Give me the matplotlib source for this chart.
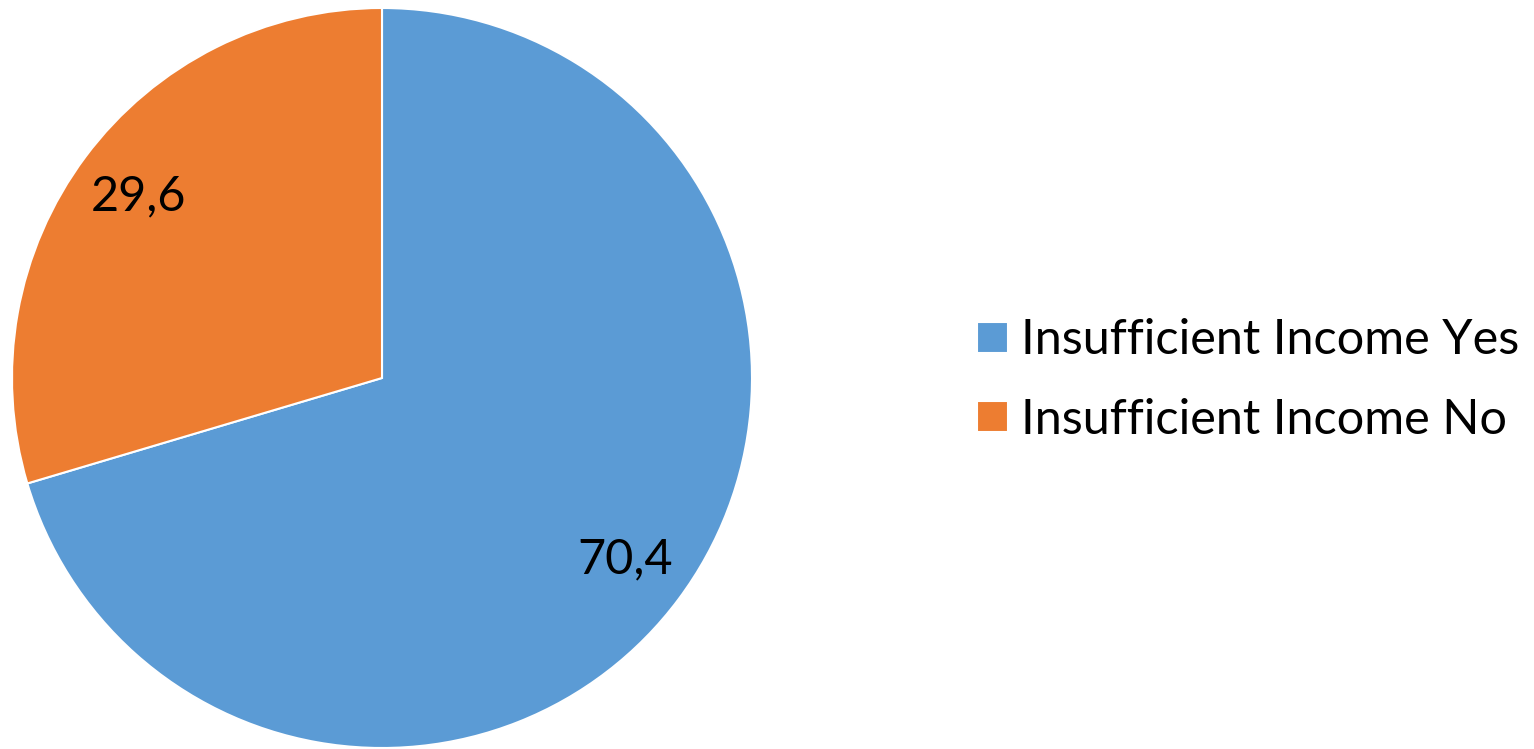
import matplotlib
matplotlib.use("Agg")
import matplotlib.pyplot as plt

labels = ["Insufficient Income Yes", "Insufficient Income No"]
values = [70.4, 29.6]
colors = ["#5B9BD5", "#ED7D31"]

plt.rcParams['font.family'] = ['Lato', 'DejaVu Sans']

fig = plt.figure(figsize=(15.34, 7.49), dpi=100)
W, H = 1534, 749
cx, cy, r = 382, 378, 370
ax = fig.add_axes([(cx - r) / W, (H - cy - r) / H, 2 * r / W, 2 * r / H])

wedges, texts, autotexts = ax.pie(
    values, colors=colors, startangle=90, counterclock=False,
    autopct=lambda p: f"{p:.1f}".replace('.', ','), pctdistance=0.82,
    wedgeprops=dict(edgecolor='white', linewidth=1.5),
    textprops=dict(fontsize=35, color='black'))
ax.set_xlim(-1, 1)
ax.set_ylim(-1, 1)

fig.legend(wedges, labels, loc='center left',
           bbox_to_anchor=(958 / W, (H - 380) / H),
           frameon=False, fontsize=35, handlelength=0.62, handleheight=0.62,
           handletextpad=0.28, labelspacing=0.72, borderaxespad=0)

fig.savefig("out.png", dpi=100)
